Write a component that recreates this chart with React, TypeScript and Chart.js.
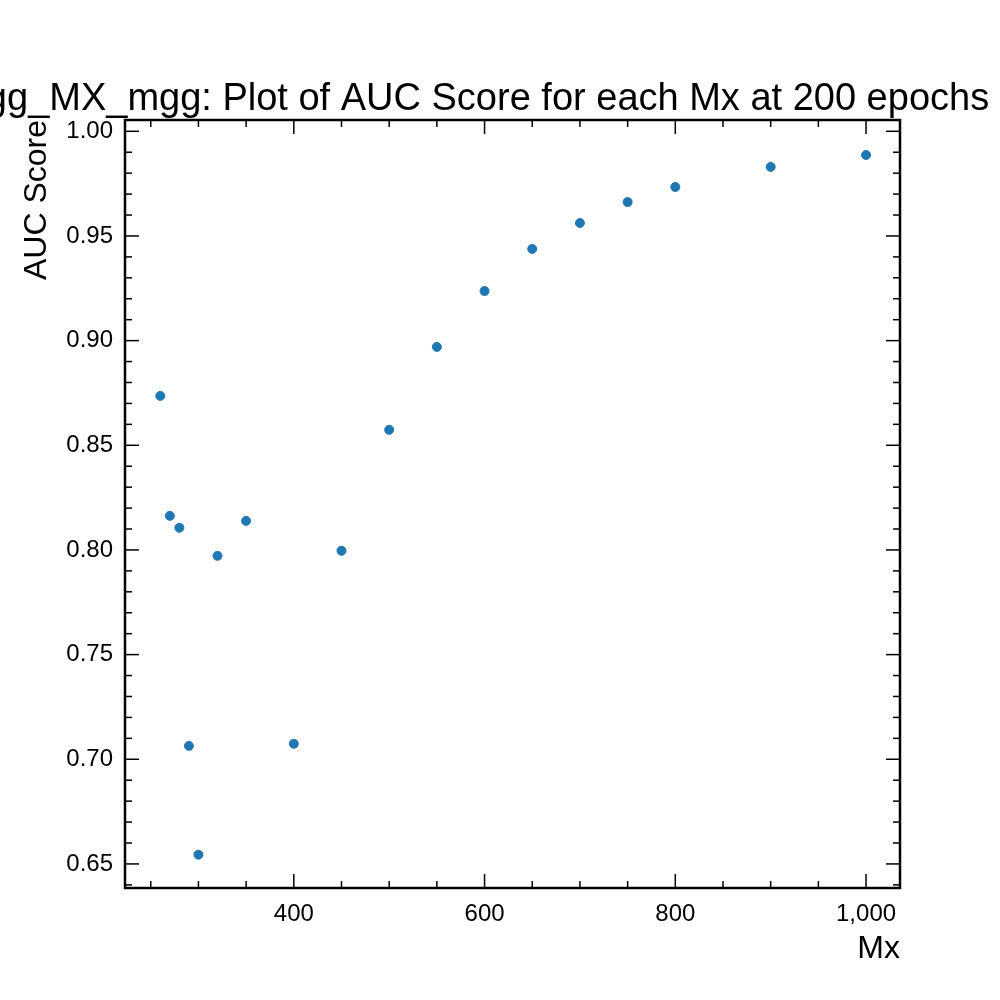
import { useEffect, useRef } from "react";
import { Chart, registerables } from "chart.js";

Chart.register(...registerables);

const mx = [260, 270, 280, 290, 300, 320, 350, 400, 450, 500, 550, 600, 650, 700, 750, 800, 900, 1000];
const auc = [0.8736, 0.8163, 0.8106, 0.7064, 0.6544, 0.7972, 0.8139, 0.7074, 0.7996, 0.8574, 0.897, 0.9237, 0.9438, 0.9562, 0.9662, 0.9734, 0.983, 0.9887];
const xTicks = [400, 600, 800, 1000];
const yTicks = [0.65, 0.7, 0.75, 0.8, 0.85, 0.9, 0.95, 1.0];
const titlePrefix = "bbgg";
const titleText = "bbgg_MX_mgg: Plot of AUC Score for each Mx at 200 epochs";

const FONT = "Liberation Sans, Arial, Helvetica, sans-serif";

const framePlugin = {
  id: "frame",
  afterDraw(chart: any) {
    const { ctx, chartArea: a, scales } = chart;
    const xs = scales.x;
    const ys = scales.y;
    ctx.save();
    ctx.strokeStyle = "#000";
    ctx.lineWidth = 2.5;
    ctx.strokeRect(a.left, a.top, a.right - a.left, a.bottom - a.top);
    ctx.lineWidth = 1.5;
    const tick = (x1: number, y1: number, x2: number, y2: number) => {
      ctx.beginPath();
      ctx.moveTo(x1, y1);
      ctx.lineTo(x2, y2);
      ctx.stroke();
    };
    for (let v = 250; v <= 1030; v += 50) {
      const px = xs.getPixelForValue(v);
      if (px < a.left || px > a.right) continue;
      const len = v % 200 === 0 ? 14 : 7;
      tick(px, a.bottom, px, a.bottom - len);
      tick(px, a.top, px, a.top + len);
    }
    for (let i = 64; i <= 100; i++) {
      const v = i / 100;
      const py = ys.getPixelForValue(v);
      if (py < a.top || py > a.bottom) continue;
      const len = i % 5 === 0 ? 14 : 7;
      tick(a.left, py, a.left + len, py);
      tick(a.right, py, a.right - len, py);
    }
    ctx.fillStyle = "#000";
    ctx.font = `38px ${FONT}`;
    ctx.textAlign = "left";
    ctx.textBaseline = "alphabetic";
    const pre = ctx.measureText(titlePrefix).width;
    ctx.fillText(titleText, 7 - pre + ctx.measureText("b").width, 110);
    ctx.font = `32px ${FONT}`;
    ctx.textAlign = "right";
    ctx.fillText("Mx", a.right, 958);
    ctx.save();
    ctx.translate(46, a.top);
    ctx.rotate(-Math.PI / 2);
    ctx.fillText("AUC Score", 0, 0);
    ctx.restore();
    ctx.restore();
  },
};

export default function App() {
  const canvasRef = useRef<HTMLCanvasElement>(null);

  useEffect(() => {
    if (!canvasRef.current) return;
    const chart = new Chart(canvasRef.current, {
      type: "scatter",
      data: {
        datasets: [
          {
            data: mx.map((x, i) => ({ x, y: auc[i] })),
            backgroundColor: "#1f77b4",
            borderColor: "#1f77b4",
            pointRadius: 4.5,
          },
        ],
      },
      options: {
        responsive: false,
        animation: false,
        layout: { padding: { top: 120, right: 100, left: 0, bottom: 0 } },
        plugins: { legend: { display: false }, tooltip: { enabled: false } },
        scales: {
          x: {
            type: "linear",
            min: 223,
            max: 1035.6,
            afterFit: (s: any) => { s.height = 112; },
            afterBuildTicks: (s: any) => { s.ticks = xTicks.map((v) => ({ value: v })); },
            grid: { display: false, drawTicks: false },
            border: { display: false },
            ticks: { color: "#000", font: { size: 24, family: FONT }, padding: 12, maxRotation: 0 },
          },
          y: {
            type: "linear",
            min: 0.6385,
            max: 1.0054,
            afterFit: (s: any) => { s.width = 125; },
            afterBuildTicks: (s: any) => { s.ticks = yTicks.map((v) => ({ value: v })); },
            grid: { display: false, drawTicks: false },
            border: { display: false },
            ticks: {
              color: "#000",
              font: { size: 24, family: FONT },
              padding: 12,
              callback: (v: any) => Number(v).toFixed(2),
            },
          },
        },
      },
      plugins: [framePlugin],
    });
    return () => chart.destroy();
  }, []);

  return (
    <div style={{ position: "absolute", left: 0, top: 0, background: "#fff" }}>
      <canvas ref={canvasRef} width={1000} height={1000} />
    </div>
  );
}
